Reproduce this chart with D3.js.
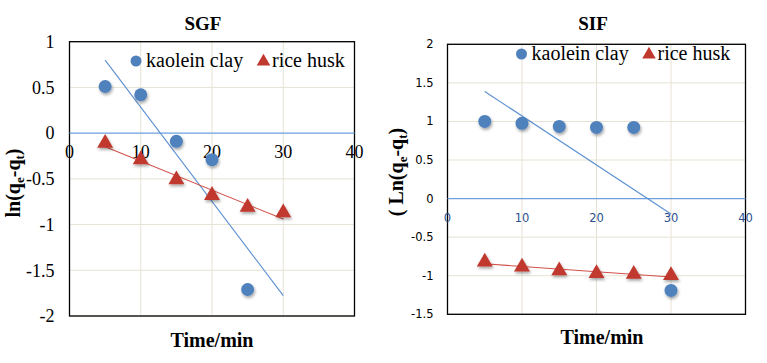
<!DOCTYPE html>
<html lang="en">
<head>
  <meta charset="UTF-8">
  <title>SGF / SIF kinetics</title>
  <script src="https://d3js.org/d3.v7.min.js"></script>
  <style>
    body {margin: 0; background: #fff;}
  </style>
</head>
<body>
<svg id="chart" width="767" height="363"></svg>
<script>
// data
const time = [5, 10, 15, 20, 25, 30];
const sgfKaolein = [0.51, 0.42, -0.09, -0.29, -1.71];
const sgfRice = [-0.11, -0.29, -0.51, -0.68, -0.81, -0.87];
const sifKaolein = [1.0, 0.975, 0.935, 0.922, 0.922, -1.19];
const sifRice = [-0.82, -0.885, -0.935, -0.97, -0.98, -0.995];
const xTicks = [0, 10, 20, 30, 40];
const sgfYTicks = [1, 0.5, 0, -0.5, -1, -1.5, -2];
const sifYTicks = [2, 1.5, 1, 0.5, 0, -0.5, -1, -1.5];
const seriesNames = ["kaolein clay", "rice husk"];

const SERIF = "'Liberation Serif', 'Times New Roman', serif";
const SANS = "'DejaVu Sans', Tahoma, Verdana, sans-serif";

const svg = d3.select("#chart");
const defs = svg.append("defs");
const sh = defs.append("filter").attr("id", "shadow")
  .attr("x", "-50%").attr("y", "-50%").attr("width", "200%").attr("height", "200%");
sh.append("feDropShadow").attr("dx", 1).attr("dy", 2).attr("stdDeviation", 1.6)
  .attr("flood-color", "#000").attr("flood-opacity", 0.35);

const blue = "#4f81bd", red = "#c0392f";

function fit(xs, ys) {
  const n = ys.length, x = xs.slice(0, n);
  const mx = d3.mean(x), my = d3.mean(ys);
  const b = d3.sum(x, (v, i) => (v - mx) * (ys[i] - my)) / d3.sum(x, v => (v - mx) ** 2);
  return t => my + b * (t - mx);
}

const tri = d3.symbol().type(d3.symbolTriangle).size(110);

function drawChart(o) {
  const g = svg.append("g");
  const x = d3.scaleLinear().domain([0, 40]).range([o.left, o.right]);
  const y = d3.scaleLinear().domain(o.yDomain).range([o.bottom, o.top]);

  // grid
  g.selectAll(".vg").data(xTicks.slice(1, -1)).join("line")
    .attr("x1", d => x(d)).attr("x2", d => x(d)).attr("y1", o.top).attr("y2", o.bottom)
    .attr("stroke", "#e6e2d3").attr("stroke-width", 1);
  g.selectAll(".hg").data(o.yTicks.filter(d => d !== 0)).join("line")
    .attr("x1", o.left).attr("x2", o.right).attr("y1", d => y(d)).attr("y2", d => y(d))
    .attr("stroke", "#e6e2d3").attr("stroke-width", 1);

  // border
  g.append("rect").attr("x", o.left).attr("y", o.top)
    .attr("width", o.right - o.left).attr("height", o.bottom - o.top)
    .attr("fill", "none").attr("stroke", "#000").attr("stroke-width", 1.3);

  // zero axis line
  g.append("line").attr("x1", o.left).attr("x2", o.right).attr("y1", y(0)).attr("y2", y(0))
    .attr("stroke", "#6d9fdc").attr("stroke-width", 1.2);

  // y tick labels
  g.selectAll(".yt").data(o.yTicks).join("text")
    .attr("font-family", o.tickFont).attr("font-size", o.tickSize)
    .attr("x", o.left - o.tickGap).attr("y", d => y(d)).attr("dy", "0.35em")
    .attr("text-anchor", "end").text(d => d);

  // x tick labels (under zero line)
  g.selectAll(".xt").data(xTicks).join("text")
    .attr("font-family", o.tickFont).attr("font-size", o.tickSize)
    .attr("x", d => x(d)).attr("y", y(0) + 19).attr("dy", "0.35em")
    .attr("text-anchor", "middle").attr("fill", o.xTickColor).text(d => d);

  // trend lines
  const tr = [5, 30];
  [[o.kaolein, "#5b8fd2"], [o.rice, "#d2504a"]].forEach(([ys, lc]) => {
    const f = fit(time, ys);
    g.append("line").attr("x1", x(tr[0])).attr("y1", y(f(tr[0])))
      .attr("x2", x(tr[1])).attr("y2", y(f(tr[1])))
      .attr("stroke", lc).attr("stroke-width", 1.1);
  });

  // markers
  g.selectAll(".pk").data(o.kaolein).join("circle")
    .attr("cx", (d, i) => x(time[i])).attr("cy", d => y(d)).attr("r", 6.5)
    .attr("fill", blue).attr("filter", "url(#shadow)");
  g.selectAll(".pr").data(o.rice).join("path")
    .attr("d", tri).attr("transform", (d, i) => `translate(${x(time[i])},${y(d)})`)
    .attr("fill", red).attr("filter", "url(#shadow)");

  // legend
  const lg = g.append("g").attr("font-family", SERIF).attr("font-size", 20);
  lg.append("circle").attr("cx", o.legX).attr("cy", o.legY).attr("r", 5.5).attr("fill", blue);
  lg.append("text").attr("x", o.legX + 10).attr("y", o.legY).attr("dy", "0.3em")
    .text(seriesNames[0]);
  lg.append("path").attr("d", d3.symbol().type(d3.symbolTriangle).size(80))
    .attr("transform", `translate(${o.legX + 127.5},${o.legY + 0.5})`).attr("fill", red);
  lg.append("text").attr("x", o.legX + 136).attr("y", o.legY).attr("dy", "0.3em")
    .text(seriesNames[1]);

  // title
  g.append("text").attr("font-family", SERIF).attr("font-weight", "bold").attr("font-size", 19)
    .attr("x", o.titleX).attr("y", 30).attr("text-anchor", "middle").text(o.title);

  // x axis title
  g.append("text").attr("font-family", SERIF).attr("font-weight", "bold").attr("font-size", 20)
    .attr("x", o.titleX + 9).attr("y", o.xTitleY).attr("text-anchor", "middle").text("Time/min");

  // y axis title
  const yt = g.append("text").attr("font-family", SERIF).attr("font-weight", "bold").attr("font-size", 20)
    .attr("transform", `translate(${o.yTitleX},${o.yTitleY}) rotate(-90)`)
    .attr("text-anchor", "middle");
  yt.append("tspan").text(o.yPrefix + "(q");
  yt.append("tspan").attr("dy", 4).attr("font-size", 13).text("e");
  yt.append("tspan").attr("dy", -4).text("-q");
  yt.append("tspan").attr("dy", 4).attr("font-size", 13).text("t");
  yt.append("tspan").attr("dy", -4).text(")");
}

drawChart({
  title: "SGF", left: 69.5, right: 354.5, top: 41.7, bottom: 316,
  yDomain: [-2, 1], yTicks: sgfYTicks, kaolein: sgfKaolein, rice: sgfRice,
  tickFont: SERIF, tickSize: 18, tickGap: 15, xTickColor: "#000",
  legX: 136, legY: 61, titleX: 203, xTitleY: 347, yTitleX: 20, yTitleY: 183, yPrefix: "ln"
});

drawChart({
  title: "SIF", left: 447.5, right: 745.5, top: 44.3, bottom: 314.3,
  yDomain: [-1.5, 2], yTicks: sifYTicks, kaolein: sifKaolein, rice: sifRice,
  tickFont: SANS, tickSize: 11.5, tickGap: 14, xTickColor: "#2a5192",
  legX: 521.5, legY: 54, titleX: 593, xTitleY: 344, yTitleX: 403, yTitleY: 172, yPrefix: "( Ln"
});
</script>
</body>
</html>
